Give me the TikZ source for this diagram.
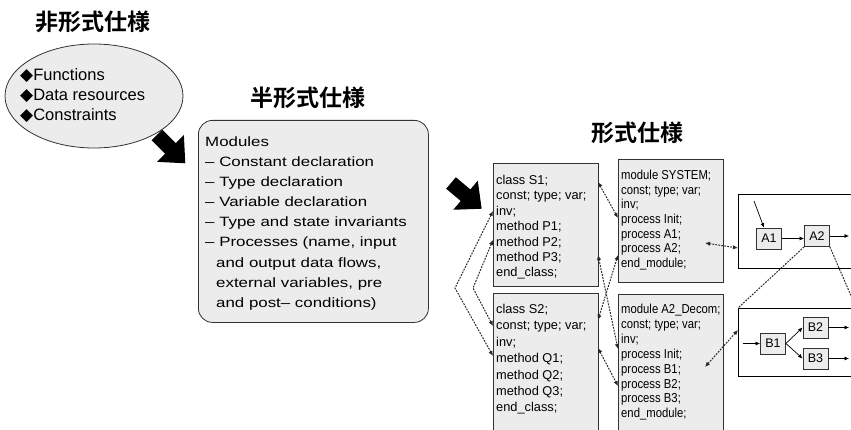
\documentclass[tikz,border=0pt]{standalone}
\usepackage{fontspec}
\setmainfont{Liberation Sans}
\newfontfamily\widefont{Liberation Sans}[FakeStretch=1.25]
\newfontfamily\narrowfont{Liberation Sans}[FakeStretch=0.87]
\newfontfamily\jpbold{Noto Sans CJK JP Bold}
\newfontfamily\symfont{DejaVu Sans}
\usetikzlibrary{arrows.meta,shapes.geometric}
\definecolor{boxgray}{RGB}{236,236,236}
\definecolor{linegray}{RGB}{50,50,50}
\definecolor{dotgray}{RGB}{40,40,40}
\begin{document}
\begin{tikzpicture}[x=1pt,y=-1pt,
  titletext/.style={font=\jpbold\fontsize{23}{23}\selectfont, inner sep=0pt},
  graybox/.style={draw=linegray, fill=boxgray, line width=0.8pt, inner sep=0pt},
  whitebox/.style={draw=black, fill=white, line width=0.9pt, inner sep=0pt},
  smallbox/.style={draw=linegray, fill=boxgray, line width=0.8pt, minimum width=25pt, minimum height=21pt, inner sep=0pt, font=\fontsize{12.5}{12.5}\selectfont},
  elltext/.style={anchor=base west, inner sep=0pt, font=\fontsize{16.5}{16.5}\selectfont},
  semitext/.style={anchor=base west, inner sep=0pt, font=\widefont\fontsize{13.5}{13.5}\selectfont},
  codetext/.style={anchor=base west, inner sep=0pt, font=\fontsize{12.8}{12.8}\selectfont},
  modtext/.style={anchor=base west, inner sep=0pt, font=\narrowfont\fontsize{13}{13}\selectfont},
  flow/.style={draw=black, line width=0.7pt, -{Latex[length=4.5pt,width=4pt]}},
  dotconn/.style={draw=dotgray, line width=1pt, dash pattern=on 1.8pt off 1.2pt,
     {Latex[length=5pt,width=4.5pt]}-{Latex[length=5pt,width=4.5pt]}},
  dotline/.style={draw=dotgray, line width=1pt, dash pattern=on 1.8pt off 1.2pt},
  bigarrow/.style={fill=black}
]
\useasboundingbox (0,0) rectangle (851,430);
\clip (0,0) rectangle (851,430);

% ---------- informal specification ----------
\node[titletext] (t1) at (93,22) {非形式仕様};
\node[graybox, ellipse, minimum width=178pt, minimum height=104pt] (ell) at (94,96) {};
\node[elltext] (e1) at (20,81) {{\symfont\fontsize{17}{17}\selectfont ◆}Functions};
\node[elltext] (e2) at (20,101) {{\symfont\fontsize{17}{17}\selectfont ◆}Data resources};
\node[elltext] (e3) at (20,121) {{\symfont\fontsize{17}{17}\selectfont ◆}Constraints};

% big arrow 1
\begin{scope}[shift={(157,135)}, rotate=-45]
  \fill[bigarrow] (0,7.5) -- (19,7.5) -- (19,19) -- (40,0) -- (19,-19) -- (19,-7.5) -- (0,-7.5) -- cycle;
\end{scope}

% ---------- semi-formal specification ----------
\node[titletext] (t2) at (308,98) {半形式仕様};
\node[graybox, rounded corners=14pt, minimum width=230pt, minimum height=202pt, anchor=north west] (semi) at (198,120) {};
\foreach \xx/\yy/\tt [count=\i] in {
  205/146.5/{Modules},
  205/166.6/{– Constant declaration},
  205/186.7/{– Type declaration},
  205/206.8/{– Variable declaration},
  205/226.9/{– Type and state invariants},
  205/247.0/{– Processes (name, input},
  216/267.1/{and output data flows,},
  216/287.2/{external variables, pre},
  216/307.3/{and post– conditions)}}
  \node[semitext] (sm\i) at (\xx,\yy) {\tt};

% big arrow 2
\begin{scope}[shift={(451,183)}, rotate=-40]
  \fill[bigarrow] (0,7.5) -- (19,7.5) -- (19,19) -- (40,0) -- (19,-19) -- (19,-7.5) -- (0,-7.5) -- cycle;
\end{scope}

% ---------- formal specification ----------
\node[titletext] (t3) at (637,133) {形式仕様};

\node[graybox, minimum width=105pt, minimum height=123pt, anchor=north west] (S1) at (493,163) {};
\node[graybox, minimum width=105pt, minimum height=150pt, anchor=north west] (S2) at (493,293) {};
\node[graybox, minimum width=105pt, minimum height=123pt, anchor=north west] (SYS) at (618,159) {};
\node[graybox, minimum width=105pt, minimum height=150pt, anchor=north west] (DEC) at (618,294) {};

\foreach \tt [count=\i from 0] in {class S1;, const; type; var;, inv;, method P1;, method P2;, method P3;, end\_class;}
  \node[codetext] (sa\i) at (496,184.5+15.4*\i) {\tt};
\foreach \tt [count=\i from 0] in {class S2;, const; type; var;, inv;, method Q1;, method Q2;, method Q3;, end\_class;}
  \node[codetext] (sb\i) at (496,313.5+16.4*\i) {\tt};
\foreach \tt [count=\i from 0] in {module SYSTEM;, const; type; var;, inv;, process Init;, process A1;, process A2;, end\_module;}
  \node[modtext] (ma\i) at (621,179.5+14.7*\i) {\tt};
\foreach \tt [count=\i from 0] in {module A2\_Decom;, const; type; var;, inv;, process Init;, process B1;, process B2;, process B3;, end\_module;}
  \node[modtext] (mb\i) at (621,313.5+14.9*\i) {\tt};

% right-hand diagrams
\node[whitebox, minimum width=130pt, minimum height=74pt, anchor=north west] (D1) at (738,194) {};
\node[whitebox, minimum width=130pt, minimum height=68pt, anchor=north west] (D2) at (738,308) {};

\node[smallbox] (A1) at (769,238.5) {A1};
\node[smallbox] (A2) at (817,236) {A2};
\node[smallbox] (B1) at (773,343.5) {B1};
\node[smallbox] (B2) at (815.5,327.5) {B2};
\node[smallbox] (B3) at (815.5,358.5) {B3};

\coordinate (a1in) at (754,201);
\coordinate (a2out) at (849,236);
\coordinate (b1in) at (743,343.5);
\coordinate (b2out) at (849,327.5);
\coordinate (b3out) at (849,358.5);
\draw[flow] (a1in) -- ([xshift=-5pt]A1.north);
\draw[flow] (A1.east) -- (A2.west |- A1.east);
\draw[flow] (A2.east) -- (a2out);
\draw[flow] (b1in) -- (B1.west);
\draw[flow] (B1.east) -- (B2.west);
\draw[flow] (B1.east) -- (B3.west);
\draw[flow] (B2.east) -- (b2out);
\draw[flow] (B3.east) -- (b3out);

% A2 decomposition guide lines
\coordinate (offr) at (852,298);
\draw[dotline] (A2.south west) -- (D2.north west);
\draw[dotline] (A2.south east) -- (offr);

% dotted correspondences
\coordinate (s1inv) at (493,211);
\coordinate (s1p2) at (493,240);
\coordinate (s2const) at (493,326);
\coordinate (s2q1) at (493,356);
\coordinate (v1) at (455,288);
\coordinate (v2) at (473,288);
\draw[dotconn] (s1inv) -- (v1) -- (s2q1);
\draw[dotconn] (s1p2) -- (v2) -- (s2const);

\coordinate (s1r1) at (598,182);
\coordinate (sysinit) at (618,218);
\coordinate (s1r6) at (598,255);
\coordinate (decinit) at (618,349);
\coordinate (sysa2) at (618,255);
\coordinate (s2r2) at (598,320);
\coordinate (s2r3) at (598,348);
\coordinate (decb2) at (618,386);
\draw[dotconn] (s1r1) -- (sysinit);
\draw[dotconn] (s1r6) -- (decinit);
\draw[dotconn] (sysa2) -- (s2r2);
\draw[dotconn] (s2r3) -- (decb2);

\coordinate (sysin) at (705,243);
\coordinate (d1l) at (738,248);
\coordinate (decin) at (705,367);
\coordinate (d2l) at (738,330);
\draw[dotconn] (sysin) -- (d1l);
\draw[dotconn] (decin) -- (d2l);
\end{tikzpicture}
\end{document}
